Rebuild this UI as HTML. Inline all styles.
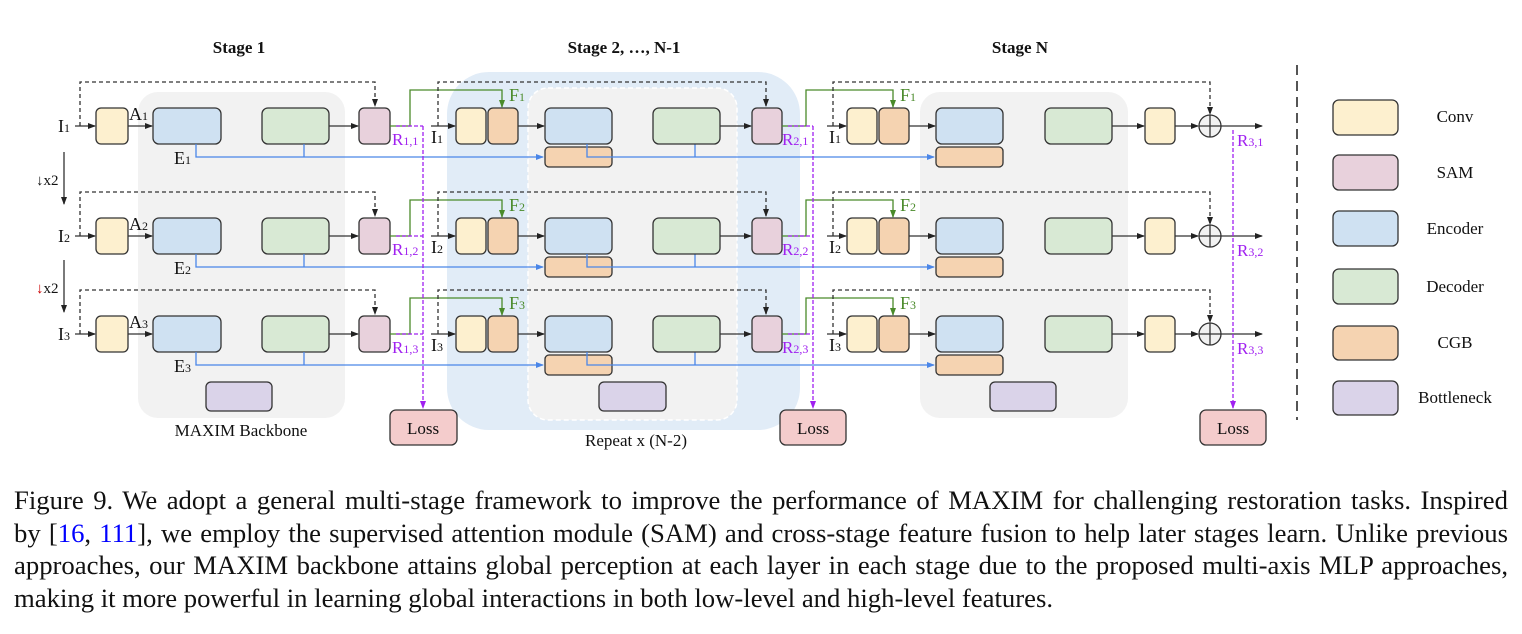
<!DOCTYPE html>
<html><head><meta charset="utf-8"><style>
body{margin:0;background:#fff;width:1522px;height:634px;overflow:hidden}
.cap{position:absolute;left:14px;width:1494px;font-family:"Liberation Serif",serif;font-size:26.7px;color:#111;text-align:justify;text-align-last:justify;line-height:32.5px;white-space:nowrap}
</style></head><body>
<svg width="1522" height="470" style="position:absolute;left:0;top:0" font-family="Liberation Serif, serif">
<defs>
<marker id="ak" markerWidth="8" markerHeight="6" refX="7" refY="3" orient="auto" markerUnits="userSpaceOnUse"><path d="M0,0 L8,3 L0,6 z" fill="#222"/></marker>
<marker id="ab" markerWidth="8" markerHeight="6" refX="7" refY="3" orient="auto" markerUnits="userSpaceOnUse"><path d="M0,0 L8,3 L0,6 z" fill="#4a86e8"/></marker>
<marker id="ag" markerWidth="8" markerHeight="6" refX="7" refY="3" orient="auto" markerUnits="userSpaceOnUse"><path d="M0,0 L8,3 L0,6 z" fill="#4a8a2a"/></marker>
<marker id="ap" markerWidth="8" markerHeight="6" refX="7" refY="3" orient="auto" markerUnits="userSpaceOnUse"><path d="M0,0 L8,3 L0,6 z" fill="#a020f0"/></marker>
<g id="row" stroke="#333" stroke-width="1.3">
 <line x1="75" y1="126" x2="95" y2="126" marker-end="url(#ak)"/>
 <path d="M80 126 V82 H375 V106" fill="none" stroke-dasharray="4,3" marker-end="url(#ak)"/>
 <rect x="96" y="108" width="32" height="36" rx="5" fill="#fdf0cf"/>
 <line x1="128" y1="126" x2="152" y2="126" marker-end="url(#ak)"/>
 <rect x="153" y="108" width="68" height="36" rx="6" fill="#cfe1f2"/>
 <rect x="262" y="108" width="67" height="36" rx="6" fill="#d8e9d4"/>
 <line x1="329" y1="126" x2="358" y2="126" marker-end="url(#ak)"/>
 <rect x="359" y="108" width="31" height="36" rx="5" fill="#e8d1dc"/>
 <path d="M390 126 H410 V90 H502 V107" fill="none" stroke="#4a8a2a" marker-end="url(#ag)"/>
 <path d="M396 126 H423" stroke="#a020f0" stroke-dasharray="4,2"/>
 <path d="M196 144 V157 H543" fill="none" stroke="#4a86e8" marker-end="url(#ab)"/>
 <path d="M304 144 V157" stroke="#4a86e8"/>
 <line x1="431" y1="126" x2="455" y2="126" marker-end="url(#ak)"/>
 <path d="M438 126 V82 H766 V106" fill="none" stroke-dasharray="4,3" marker-end="url(#ak)"/>
 <rect x="456" y="108" width="30" height="36" rx="5" fill="#fdf0cf"/>
 <rect x="488" y="108" width="30" height="36" rx="5" fill="#f5d3b1"/>
 <line x1="518" y1="126" x2="544" y2="126" marker-end="url(#ak)"/>
 <rect x="545" y="108" width="67" height="36" rx="6" fill="#cfe1f2"/>
 <rect x="545" y="147" width="67" height="20" rx="4" fill="#f5d3b1"/>
 <path d="M587 144 V157 H934" fill="none" stroke="#4a86e8" marker-end="url(#ab)"/>
 <path d="M695 144 V157" stroke="#4a86e8"/>
 <rect x="653" y="108" width="67" height="36" rx="6" fill="#d8e9d4"/>
 <line x1="720" y1="126" x2="751" y2="126" marker-end="url(#ak)"/>
 <rect x="752" y="108" width="30" height="36" rx="5" fill="#e8d1dc"/>
 <path d="M782 126 H806 V90 H893 V107" fill="none" stroke="#4a8a2a" marker-end="url(#ag)"/>
 <path d="M788 126 H813" stroke="#a020f0" stroke-dasharray="4,2"/>
 <line x1="827" y1="126" x2="846" y2="126" marker-end="url(#ak)"/>
 <path d="M833 126 V82 H1210 V114" fill="none" stroke-dasharray="4,3" marker-end="url(#ak)"/>
 <rect x="847" y="108" width="30" height="36" rx="5" fill="#fdf0cf"/>
 <rect x="879" y="108" width="30" height="36" rx="5" fill="#f5d3b1"/>
 <line x1="909" y1="126" x2="935" y2="126" marker-end="url(#ak)"/>
 <rect x="936" y="108" width="67" height="36" rx="6" fill="#cfe1f2"/>
 <rect x="936" y="147" width="67" height="20" rx="4" fill="#f5d3b1"/>
 <rect x="1045" y="108" width="67" height="36" rx="6" fill="#d8e9d4"/>
 <line x1="1112" y1="126" x2="1144" y2="126" marker-end="url(#ak)"/>
 <rect x="1145" y="108" width="30" height="36" rx="5" fill="#fdf0cf"/>
 <line x1="1175" y1="126" x2="1198" y2="126" marker-end="url(#ak)"/>
 <circle cx="1210" cy="126" r="11" fill="#f2f2f2"/>
 <path d="M1199 126 H1221 M1210 115 V137"/>
 <line x1="1221" y1="126" x2="1262" y2="126" marker-end="url(#ak)"/>
</g>
</defs>
<rect x="138" y="92" width="207" height="326" rx="20" fill="#f2f2f2"/>
<rect x="447" y="72" width="353" height="358" rx="42" fill="#e1ecf7"/>
<rect x="528" y="88" width="209" height="332" rx="20" fill="#f2f2f2" stroke="#fff" stroke-width="1.5" stroke-dasharray="5,3"/>
<rect x="920" y="92" width="208" height="326" rx="20" fill="#f2f2f2"/>
<use href="#row"/>
<use href="#row" y="110"/>
<use href="#row" y="208"/>
<g stroke="#333" stroke-width="1.3">
<rect x="206" y="382" width="66" height="29" rx="5" fill="#dad3e9"/>
<rect x="599" y="382" width="67" height="29" rx="5" fill="#dad3e9"/>
<rect x="990" y="382" width="66" height="29" rx="5" fill="#dad3e9"/>
<rect x="390" y="410" width="67" height="35" rx="6" fill="#f4cccc"/>
<rect x="780" y="410" width="66" height="35" rx="6" fill="#f4cccc"/>
<rect x="1200" y="410" width="66" height="35" rx="6" fill="#f4cccc"/>
<line x1="64" y1="152" x2="64" y2="204" marker-end="url(#ak)"/>
<line x1="64" y1="260" x2="64" y2="312" marker-end="url(#ak)"/>
</g>
<g stroke="#a020f0" stroke-width="1.3" stroke-dasharray="4,2" fill="none">
<path d="M423 126 V408" marker-end="url(#ap)"/>
<path d="M813 126 V408" marker-end="url(#ap)"/>
<path d="M1233 130 V408" marker-end="url(#ap)"/>
</g>
<line x1="1297" y1="65" x2="1297" y2="420" stroke="#555" stroke-width="2" stroke-dasharray="10,6"/>
<g stroke="#333" stroke-width="1.3">
<rect x="1333" y="100" width="65" height="35" rx="6" fill="#fdf0cf"/>
<rect x="1333" y="155" width="65" height="35" rx="6" fill="#e8d1dc"/>
<rect x="1333" y="211" width="65" height="35" rx="6" fill="#cfe1f2"/>
<rect x="1333" y="269" width="65" height="35" rx="6" fill="#d8e9d4"/>
<rect x="1333" y="326" width="65" height="34" rx="6" fill="#f5d3b1"/>
<rect x="1333" y="381" width="65" height="34" rx="6" fill="#dad3e9"/>
</g>
<g font-size="17" fill="#111" text-anchor="middle">
<text x="1455" y="122">Conv</text><text x="1455" y="178">SAM</text><text x="1455" y="234">Encoder</text>
<text x="1455" y="292">Decoder</text><text x="1455" y="348">CGB</text><text x="1455" y="403">Bottleneck</text>
<text x="423" y="434">Loss</text><text x="813" y="434">Loss</text><text x="1233" y="434">Loss</text>
<text x="241" y="436">MAXIM Backbone</text><text x="636" y="446">Repeat x (N-2)</text>
<g font-weight="bold" font-size="17"><text x="239" y="53">Stage 1</text><text x="624" y="53">Stage 2, …, N-1</text><text x="1020" y="53">Stage N</text></g>
</g>
<g font-size="18" fill="#111">
<text x="58" y="132">I<tspan font-size="12">1</tspan></text>
<text x="58" y="242">I<tspan font-size="12">2</tspan></text>
<text x="58" y="340">I<tspan font-size="12">3</tspan></text>
<text x="129" y="120">A<tspan font-size="12">1</tspan></text>
<text x="129" y="230">A<tspan font-size="12">2</tspan></text>
<text x="129" y="328">A<tspan font-size="12">3</tspan></text>
<text x="174" y="164">E<tspan font-size="12">1</tspan></text>
<text x="174" y="274">E<tspan font-size="12">2</tspan></text>
<text x="174" y="372">E<tspan font-size="12">3</tspan></text>
<text x="431" y="143">I<tspan font-size="12">1</tspan></text>
<text x="431" y="253">I<tspan font-size="12">2</tspan></text>
<text x="431" y="351">I<tspan font-size="12">3</tspan></text>
<text x="829" y="143">I<tspan font-size="12">1</tspan></text>
<text x="829" y="253">I<tspan font-size="12">2</tspan></text>
<text x="829" y="351">I<tspan font-size="12">3</tspan></text>
<text x="36" y="185" font-size="15">↓x2</text>
<text x="36" y="293" font-size="15"><tspan fill="#c00">↓</tspan>x2</text>
</g>
<g font-size="18" fill="#4a8a2a">
<text x="509" y="101">F<tspan font-size="12">1</tspan></text><text x="509" y="211">F<tspan font-size="12">2</tspan></text><text x="509" y="309">F<tspan font-size="12">3</tspan></text>
<text x="900" y="101">F<tspan font-size="12">1</tspan></text><text x="900" y="211">F<tspan font-size="12">2</tspan></text><text x="900" y="309">F<tspan font-size="12">3</tspan></text>
</g>
<g font-size="17" fill="#a020f0">
<text x="392" y="145">R<tspan font-size="12">1,1</tspan></text><text x="392" y="255">R<tspan font-size="12">1,2</tspan></text><text x="392" y="353">R<tspan font-size="12">1,3</tspan></text>
<text x="782" y="145">R<tspan font-size="12">2,1</tspan></text><text x="782" y="255">R<tspan font-size="12">2,2</tspan></text><text x="782" y="353">R<tspan font-size="12">2,3</tspan></text>
<text x="1237" y="146">R<tspan font-size="12">3,1</tspan></text><text x="1237" y="256">R<tspan font-size="12">3,2</tspan></text><text x="1237" y="354">R<tspan font-size="12">3,3</tspan></text>
</g>
</svg>
<div class="cap" style="top:484px">Figure 9. We adopt a general multi-stage framework to improve the performance of MAXIM for challenging restoration tasks. Inspired</div>
<div class="cap" style="top:517px">by [<span style="color:#00f">16</span>, <span style="color:#00f">111</span>], we employ the supervised attention module (SAM) and cross-stage feature fusion to help later stages learn. Unlike previous</div>
<div class="cap" style="top:549px">approaches, our MAXIM backbone attains global perception at each layer in each stage due to the proposed multi-axis MLP approaches,</div>
<div class="cap" style="top:582px;text-align-last:left">making it more powerful in learning global interactions in both low-level and high-level features.</div>
</body></html>
